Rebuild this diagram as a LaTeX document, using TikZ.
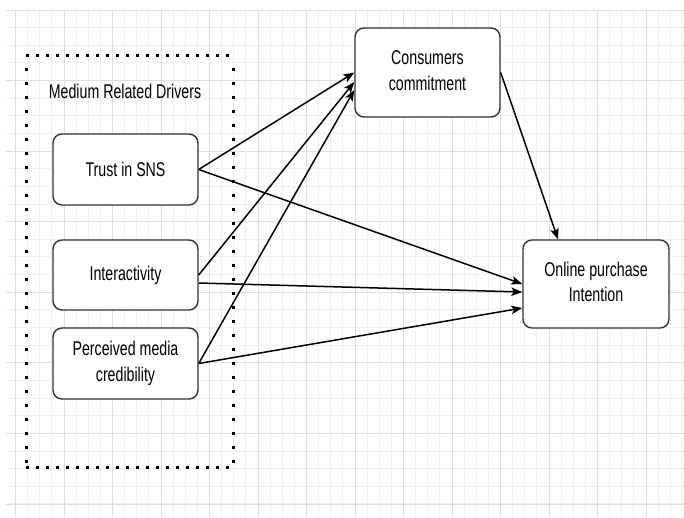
\documentclass[tikz,border=0pt]{standalone}
\usepackage{fontspec}
\setmainfont{Liberation Sans}
\usetikzlibrary{arrows.meta}
\newcommand{\vs}[1]{\scalebox{1}[1.4]{#1}}
\newcommand{\vst}[1]{\scalebox{1}[1.4]{\begin{tabular}{@{}c@{}}#1\end{tabular}}}
\definecolor{gridminor}{RGB}{240,240,240}
\definecolor{gridmajor}{RGB}{222,222,222}
\begin{document}
\begin{tikzpicture}[x=1pt,y=-1pt,
  box/.style={draw=black!80, line width=1.4pt, rounded corners=9pt, fill=white, inner sep=0pt,
    font=\fontsize{14.2}{18}\selectfont, text=black, align=center},
  arr/.style={line width=1.5pt, -{Stealth[length=11pt,width=8.5pt,inset=2.5pt]}},
  dotsh/.style={line width=3pt, dash pattern=on 3pt off 7pt},
  dotsv/.style={line width=3pt, dash pattern=on 3pt off 11pt}]
\useasboundingbox (0,0) rectangle (684,517);
\fill[white] (0,0) rectangle (684,517);
% grid
\foreach \xx in {15.5,27.625,...,684} \draw[gridminor, line width=1pt] (\xx,10) -- (\xx,517);
\foreach \yy in {10,27.64,...,517} \draw[gridminor, line width=1pt] (6,\yy) -- (684,\yy);
\foreach \xx in {15.5,64,...,684} \draw[gridmajor, line width=1pt] (\xx,10) -- (\xx,517);
\foreach \yy in {10,80.57,...,517} \draw[gridmajor, line width=1pt] (6,\yy) -- (684,\yy);
% dotted group frame
\draw[dotsh] (26,55) -- (234,55);
\draw[dotsh] (26,467) -- (234,467);
\draw[dotsv] (26,68) -- (26,467);
\draw[dotsv] (233,68) -- (233,467);
\node[font=\fontsize{14.2}{18}\selectfont, text=black] (mrd) at (125,91) {\vs{Medium Related Drivers}};
% boxes
\node[box, minimum width=145pt, minimum height=71pt] (trust) at (125.5,169.5) {\vs{Trust in SNS}};
\node[box, minimum width=145pt, minimum height=70pt] (inter) at (125.5,275) {\vs{Interactivity}};
\node[box, minimum width=145pt, minimum height=71pt] (perc) at (125.5,363.5) {\vst{Perceived media\\credibility}};
\node[box, minimum width=145pt, minimum height=89pt] (cons) at (427.5,72.5) {\vst{Consumers\\commitment}};
\node[box, minimum width=146pt, minimum height=88pt] (online) at (596,284) {\vst{Online purchase\\Intention}};
% connectors
\draw[arr] (trust.east) -- (cons.west);
\draw[arr] (inter.east) -- ([yshift=-9.5pt]cons.west);
\draw[arr] (perc.east) -- ([yshift=-17.5pt]cons.west);
\draw[arr] (trust.east) -- (online.west);
\draw[arr] ([yshift=-8pt]inter.east) -- ([yshift=-8pt]online.west);
\draw[arr] (perc.east) -- ([yshift=-24pt]online.west);
\draw[arr] (cons.east) -- ([xshift=-38pt]online.north);
\end{tikzpicture}
\end{document}
